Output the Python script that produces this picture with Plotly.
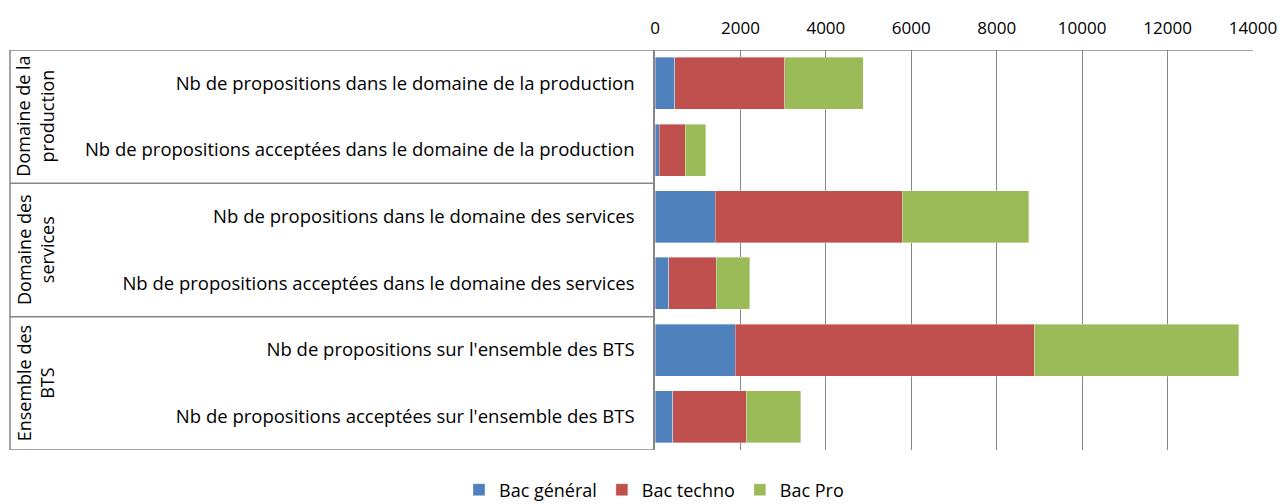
import plotly.graph_objects as go

categories = [
    "Nb de propositions dans le domaine de la production",
    "Nb de propositions acceptées dans le domaine de la production",
    "Nb de propositions dans le domaine des services",
    "Nb de propositions acceptées dans le domaine des services",
    "Nb de propositions sur l'ensemble des BTS",
    "Nb de propositions acceptées sur l'ensemble des BTS",
]
groups = ["Domaine de la<br>production", "Domaine des<br>services", "Ensemble des<br>BTS"]

bac_general = [463, 94, 1412, 316, 1876, 411]
bac_techno = [2580, 612, 4376, 1121, 7000, 1720]
bac_pro = [1828, 486, 2965, 782, 4794, 1280]

series = [
    ("Bac général", bac_general, "#4F81BD"),
    ("Bac techno", bac_techno, "#C0504D"),
    ("Bac Pro", bac_pro, "#9BBB59"),
]

FONT = "Open Sans"
GRAY = "#868686"

fig = go.Figure()
for name, vals, col in series:
    fig.add_trace(go.Bar(
        y=categories, x=vals, name=name, orientation="h",
        marker=dict(color=col, line=dict(color="rgba(255,255,255,0.6)", width=0.6)),
        width=0.78,
    ))

W, H = 1278, 504
L, R, T, B = 655, 25, 50, 54
pw = W - L - R

def px2paper(x):
    return (x - L) / pw

shapes = []
shapes.append(dict(type="line", xref="paper", yref="y", x0=px2paper(10), x1=1, y0=-0.5, y1=-0.5,
                   line=dict(color=GRAY, width=1.5)))
for yb in [1.5, 3.5, 5.5]:
    shapes.append(dict(type="line", xref="paper", yref="y", x0=px2paper(10), x1=0, y0=yb, y1=yb,
                       line=dict(color=GRAY, width=1.5)))
shapes.append(dict(type="line", xref="paper", yref="y", x0=px2paper(10), x1=px2paper(10), y0=-0.5, y1=5.5,
                   line=dict(color=GRAY, width=1.5)))

annotations = []
for i, g in enumerate(groups):
    annotations.append(dict(text=g, xref="paper", yref="y", x=px2paper(35), y=2 * i + 0.5,
                            textangle=-90, showarrow=False, xanchor="center", yanchor="middle",
                            font=dict(family=FONT, size=18, color="#000000")))

fig.update_layout(
    barmode="stack",
    width=W, height=H,
    margin=dict(l=L, r=R, t=T, b=B, pad=0, autoexpand=False),
    plot_bgcolor="white", paper_bgcolor="white",
    font=dict(family=FONT, size=18, color="#000000"),
    shapes=shapes,
    annotations=annotations,
    showlegend=True,
    legend=dict(orientation="h", x=px2paper(654), xanchor="center", y=-0.1, yanchor="middle",
                font=dict(family=FONT, size=18), traceorder="normal", itemwidth=30),
)
fig.update_xaxes(
    side="top", range=[0, 14000.5], dtick=2000, tick0=0, tickformat="d",
    showgrid=True, gridcolor=GRAY, gridwidth=1.3,
    zeroline=False, showline=False, ticks="",
    tickfont=dict(family=FONT, size=17), ticklabelstandoff=12, automargin=False,
    ticklabeloverflow="allow",
)
fig.update_yaxes(
    categoryorder="array", categoryarray=categories,
    range=[5.5, -0.5], showgrid=False, showline=True, linecolor=GRAY, linewidth=1.5,
    ticks="", ticklabelstandoff=15, tickfont=dict(family=FONT, size=18.5),
    automargin=False,
)

fig.write_html(
    "out.html",
    config={"displayModeBar": False},
    post_script="document.body.style.margin='0';document.body.style.overflow='hidden';",
)
